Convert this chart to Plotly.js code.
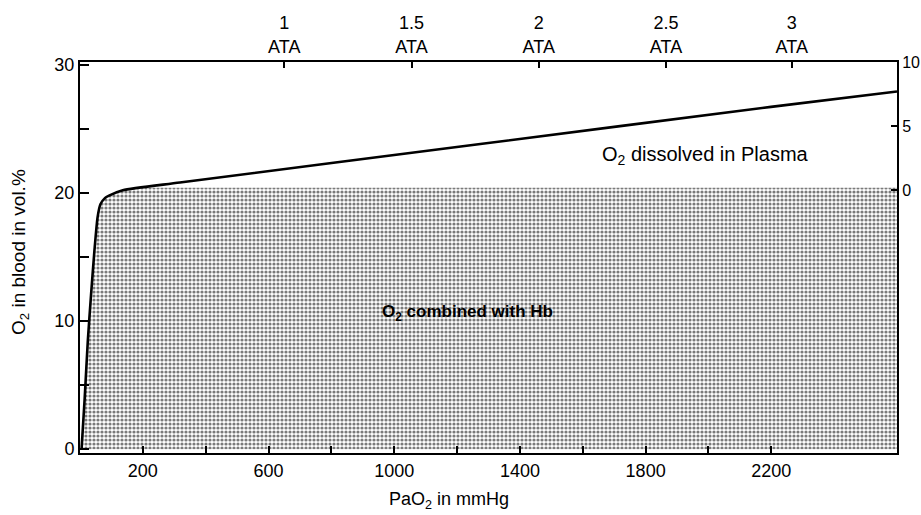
<!DOCTYPE html>
<html>
<head>
<meta charset="utf-8">
<script src="https://cdn.plot.ly/plotly-3.0.1.min.js"></script>
<style>html,body{margin:0;padding:0;background:#fff;}#chart{width:921px;height:515px;}</style>
</head>
<body>
<div id="chart"></div>
<script>
// Total O2 content (Hb-bound + dissolved), vol.%
const pao2 = [5, 15, 25, 35, 46, 56, 65, 80, 94, 136, 318, 1274, 2199, 2600];
const totalO2 = [0, 4, 8.5, 12, 15.5, 18.1, 19.1, 19.6, 19.8, 20.2, 20.8, 23.8, 26.7, 27.9];
// O2 combined with Hb, vol.%
const hbPao2 = [5, 15, 25, 35, 46, 56, 65, 80, 94, 136, 200, 2600];
const hbO2 = [0, 4, 8.5, 12, 15.5, 18.1, 19.1, 19.6, 19.8, 20.2, 20.4, 20.4];
// Bottom axis ticks
const xTickVals = [200, 400, 600, 800, 1000, 1200, 1400, 1600, 1800, 2000, 2200];
const xTickText = ['200', '', '600', '', '1000', '', '1400', '', '1800', '', '2200'];
// Top axis (ATA) ticks
const ataPos = [650, 1055, 1460, 1865, 2265];
const ataText = ['1', '1.5', '2', '2.5', '3'];
// Left axis ticks
const yTickVals = [0, 5, 10, 15, 20, 25, 30];
const yTickText = ['0', '', '10', '', '20', '', '30'];
// Right axis ticks (O2 dissolved in plasma, vol.%)
const y2TickVals = [0, 5, 10];
const y2TickText = ['0', '5', '10'];

const FONT = 'Liberation Sans, Arial, Helvetica, sans-serif';

const traces = [
  {
    x: hbPao2, y: hbO2, type: 'scatter', mode: 'lines',
    line: {width: 0, color: 'rgba(0,0,0,0)'},
    fill: 'tozeroy',
    fillcolor: '#ffffff',
    fillpattern: {shape: '.', fgcolor: '#7a7a7a', bgcolor: '#ffffff', size: 4, solidity: 0.5},
    hoverinfo: 'skip', showlegend: false
  },
  {
    x: pao2, y: totalO2, type: 'scatter', mode: 'lines',
    line: {width: 2.6, color: '#000', shape: 'spline', smoothing: 0.6},
    hoverinfo: 'skip', showlegend: false
  },
  {
    x: [ataPos[0]], y: [y2TickVals[0]], xaxis: 'x2', yaxis: 'y2',
    type: 'scatter', mode: 'markers', marker: {opacity: 0, size: 1},
    hoverinfo: 'skip', showlegend: false
  }
];

const axisCommon = {
  showgrid: false, zeroline: false, showline: true, linecolor: '#000', linewidth: 2,
  ticks: 'inside', tickcolor: '#000', tickwidth: 2,
  tickfont: {family: FONT, size: 18, color: '#000'}
};

const layout = {
  width: 921, height: 515,
  margin: {l: 80, r: 24, t: 62, b: 62},
  paper_bgcolor: '#fff', plot_bgcolor: '#fff',
  showlegend: false,
  xaxis: Object.assign({}, axisCommon, {
    range: [0, 2600], tickmode: 'array', tickvals: xTickVals, ticktext: xTickText, ticklen: 7
  }),
  xaxis2: Object.assign({}, axisCommon, {
    overlaying: 'x', side: 'top', range: [0, 2600], tickmode: 'array',
    tickvals: ataPos, ticktext: ataText.map(t => t + '<br>ATA'), ticklen: 6
  }),
  yaxis: Object.assign({}, axisCommon, {
    range: [-0.3, 30.2], tickmode: 'array', tickvals: yTickVals, ticktext: yTickText, ticklen: 9
  }),
  yaxis2: Object.assign({}, axisCommon, {
    overlaying: 'y', side: 'right', range: [-20.5, 10.0], tickmode: 'array',
    tickvals: y2TickVals, ticktext: y2TickText, ticklen: 6,
    tickfont: {family: FONT, size: 16, color: '#000'}
  }),
  annotations: [
    {text: 'O<sub>2</sub> dissolved in Plasma', x: 1989, y: 22.9, xref: 'x', yref: 'y',
     showarrow: false, font: {family: FONT, size: 20, color: '#000'}},
    {text: '<b>O<sub>2</sub> combined with Hb</b>', x: 1232, y: 10.6, xref: 'x', yref: 'y',
     showarrow: false, font: {family: FONT, size: 17, color: '#000'}},
    {text: 'PaO<sub>2</sub> in mmHg', x: 0.4517, y: -0.122, xref: 'paper', yref: 'paper',
     xanchor: 'center', yanchor: 'middle', showarrow: false, font: {family: FONT, size: 18, color: '#000'}},
    {text: 'O<sub>2</sub> in blood in vol.%', x: -0.0734, y: 0.514, xref: 'paper', yref: 'paper',
     xanchor: 'center', yanchor: 'middle', textangle: -90, showarrow: false,
     font: {family: FONT, size: 19, color: '#000'}}
  ]
};

Plotly.newPlot('chart', traces, layout, {displayModeBar: false, staticPlot: true});
</script>
</body>
</html>
